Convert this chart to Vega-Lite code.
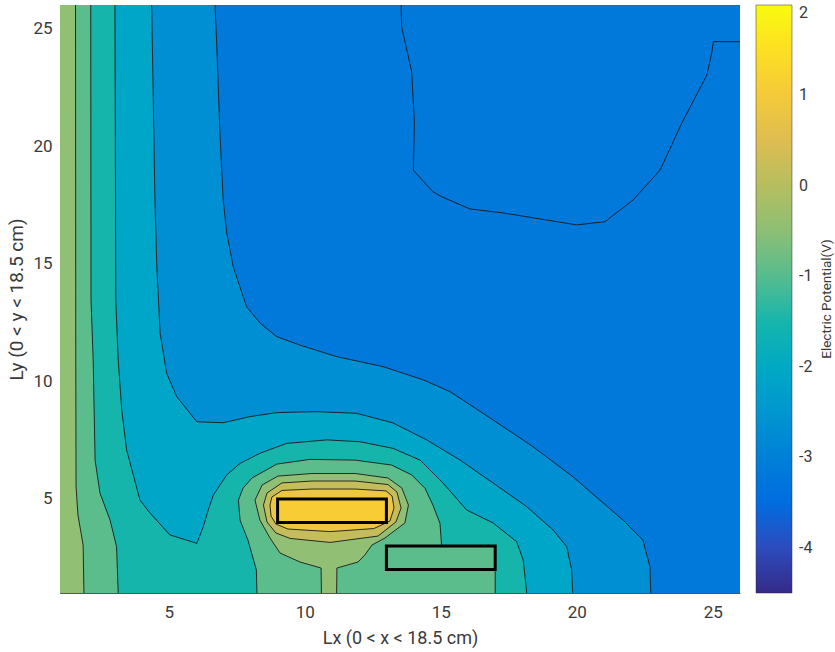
{
"$schema": "https://vega.github.io/schema/vega-lite/v6.json",
"width": 680, "height": 588,
"autosize": "none",
"padding": {"left": 60, "top": 5, "right": 95, "bottom": 59},
"background": "white",
"title": {"text": "Electric Potential(V)", "orient": "right", "angle": 270, "anchor": "middle", "baseline": "top", "offset": -7, "fontSize": 13.5, "fontWeight": "normal", "color": "#3a3a3a", "font": "Roboto"},
"config": {"view": {"stroke": null}, "font": "Roboto"},
"datasets": {
"poly": [
{"id":"bg","i":0,"x":1,"y":1,"v":-3.2,"e":1},{"id":"bg","i":1,"x":26,"y":1,"v":-3.2,"e":1},{"id":"bg","i":2,"x":26,"y":26,"v":-3.2,"e":1},{"id":"bg","i":3,"x":1,"y":26,"v":-3.2,"e":1},
{"id":"p1","i":0,"x":13.54,"y":26,"v":-3.2},{"id":"p1","i":1,"x":13.56,"y":25.08,"v":-3.2},{"id":"p1","i":2,"x":13.93,"y":23.16,"v":-3.2},{"id":"p1","i":3,"x":14.03,"y":20.98,"v":-3.2},{"id":"p1","i":4,"x":13.99,"y":18.98,"v":-3.2},{"id":"p1","i":5,"x":14.71,"y":18.06,"v":-3.2},{"id":"p1","i":6,"x":15.03,"y":17.85,"v":-3.2},{"id":"p1","i":7,"x":16.07,"y":17.33,"v":-3.2},{"id":"p1","i":8,"x":17.29,"y":17.16,"v":-3.2},{"id":"p1","i":9,"x":18.89,"y":16.86,"v":-3.2},{"id":"p1","i":10,"x":20.0,"y":16.65,"v":-3.2},{"id":"p1","i":11,"x":21.04,"y":16.79,"v":-3.2},{"id":"p1","i":12,"x":22.07,"y":17.71,"v":-3.2},{"id":"p1","i":13,"x":23.06,"y":18.98,"v":-3.2},{"id":"p1","i":14,"x":23.86,"y":20.98,"v":-3.2},{"id":"p1","i":15,"x":24.78,"y":23.02,"v":-3.2},{"id":"p1","i":16,"x":24.96,"y":23.96,"v":-3.2},{"id":"p1","i":17,"x":25.02,"y":24.44,"v":-3.2},{"id":"p1","i":18,"x":26,"y":24.44,"v":-3.2},{"id":"p1","i":19,"x":26,"y":26,"v":-3.2,"e":1},
{"id":"p2","i":0,"x":6.7,"y":26,"v":-2.65},{"id":"p2","i":1,"x":6.77,"y":24.09,"v":-2.65},{"id":"p2","i":2,"x":6.88,"y":20.56,"v":-2.65},{"id":"p2","i":3,"x":7.0,"y":17.71,"v":-2.65},{"id":"p2","i":4,"x":7.13,"y":16.31,"v":-2.65},{"id":"p2","i":5,"x":7.37,"y":14.87,"v":-2.65},{"id":"p2","i":6,"x":7.86,"y":13.17,"v":-2.65},{"id":"p2","i":7,"x":8.35,"y":12.48,"v":-2.65},{"id":"p2","i":8,"x":8.97,"y":11.9,"v":-2.65},{"id":"p2","i":9,"x":9.82,"y":11.54,"v":-2.65},{"id":"p2","i":10,"x":11.17,"y":11.05,"v":-2.65},{"id":"p2","i":11,"x":12.89,"y":10.62,"v":-2.65},{"id":"p2","i":12,"x":14.36,"y":10.06,"v":-2.65},{"id":"p2","i":13,"x":15.34,"y":9.56,"v":-2.65},{"id":"p2","i":14,"x":16.92,"y":8.36,"v":-2.65},{"id":"p2","i":15,"x":18.39,"y":7.22,"v":-2.65},{"id":"p2","i":16,"x":19.86,"y":5.94,"v":-2.65},{"id":"p2","i":17,"x":20.85,"y":4.95,"v":-2.65},{"id":"p2","i":18,"x":21.7,"y":4.1,"v":-2.65},{"id":"p2","i":19,"x":22.43,"y":3.25,"v":-2.65},{"id":"p2","i":20,"x":22.69,"y":2.11,"v":-2.65},{"id":"p2","i":21,"x":22.72,"y":1,"v":-2.65},{"id":"p2","i":22,"x":1,"y":1,"v":-2.65,"e":1},{"id":"p2","i":23,"x":1,"y":26,"v":-2.65,"e":1},
{"id":"p3","i":0,"x":4.37,"y":26,"v":-2.1},{"id":"p3","i":1,"x":4.46,"y":19.83,"v":-2.1},{"id":"p3","i":2,"x":4.49,"y":17.71,"v":-2.1},{"id":"p3","i":3,"x":4.56,"y":14.87,"v":-2.1},{"id":"p3","i":4,"x":4.68,"y":12.05,"v":-2.1},{"id":"p3","i":5,"x":4.92,"y":10.35,"v":-2.1},{"id":"p3","i":6,"x":5.29,"y":9.35,"v":-2.1},{"id":"p3","i":7,"x":6.03,"y":8.28,"v":-2.1},{"id":"p3","i":8,"x":7.0,"y":8.24,"v":-2.1},{"id":"p3","i":9,"x":7.99,"y":8.5,"v":-2.1},{"id":"p3","i":10,"x":8.97,"y":8.67,"v":-2.1},{"id":"p3","i":11,"x":10.44,"y":8.71,"v":-2.1},{"id":"p3","i":12,"x":11.91,"y":8.64,"v":-2.1},{"id":"p3","i":13,"x":13.24,"y":8.23,"v":-2.1},{"id":"p3","i":14,"x":14.48,"y":7.51,"v":-2.1},{"id":"p3","i":15,"x":15.71,"y":6.65,"v":-2.1},{"id":"p3","i":16,"x":16.92,"y":5.68,"v":-2.1},{"id":"p3","i":17,"x":18.16,"y":4.67,"v":-2.1},{"id":"p3","i":18,"x":19.13,"y":3.68,"v":-2.1},{"id":"p3","i":19,"x":19.63,"y":2.97,"v":-2.1},{"id":"p3","i":20,"x":19.81,"y":1.98,"v":-2.1},{"id":"p3","i":21,"x":19.85,"y":1,"v":-2.1},{"id":"p3","i":22,"x":1,"y":1,"v":-2.1,"e":1},{"id":"p3","i":23,"x":1,"y":26,"v":-2.1,"e":1},
{"id":"p4","i":0,"x":3.02,"y":26,"v":-1.5},{"id":"p4","i":1,"x":3.05,"y":13.46,"v":-1.5},{"id":"p4","i":2,"x":3.14,"y":10.91,"v":-1.5},{"id":"p4","i":3,"x":3.27,"y":8.78,"v":-1.5},{"id":"p4","i":4,"x":3.45,"y":7.08,"v":-1.5},{"id":"p4","i":5,"x":3.94,"y":4.95,"v":-1.5},{"id":"p4","i":6,"x":4.31,"y":4.4,"v":-1.5},{"id":"p4","i":7,"x":5.04,"y":3.47,"v":-1.5},{"id":"p4","i":8,"x":6.03,"y":3.11,"v":-1.5},{"id":"p4","i":9,"x":6.27,"y":3.82,"v":-1.5},{"id":"p4","i":10,"x":6.45,"y":4.53,"v":-1.5},{"id":"p4","i":11,"x":6.64,"y":5.17,"v":-1.5},{"id":"p4","i":12,"x":7.13,"y":6.02,"v":-1.5},{"id":"p4","i":13,"x":7.62,"y":6.51,"v":-1.5},{"id":"p4","i":14,"x":8.35,"y":6.94,"v":-1.5},{"id":"p4","i":15,"x":9.33,"y":7.36,"v":-1.5},{"id":"p4","i":16,"x":10.81,"y":7.51,"v":-1.5},{"id":"p4","i":17,"x":12.03,"y":7.43,"v":-1.5},{"id":"p4","i":18,"x":13.24,"y":7.15,"v":-1.5},{"id":"p4","i":19,"x":14.24,"y":6.65,"v":-1.5},{"id":"p4","i":20,"x":15.08,"y":5.68,"v":-1.5},{"id":"p4","i":21,"x":15.95,"y":4.53,"v":-1.5},{"id":"p4","i":22,"x":16.92,"y":3.98,"v":-1.5},{"id":"p4","i":23,"x":17.79,"y":3.18,"v":-1.5},{"id":"p4","i":24,"x":18.03,"y":2.4,"v":-1.5},{"id":"p4","i":25,"x":18.16,"y":1,"v":-1.5},{"id":"p4","i":26,"x":1,"y":1,"v":-1.5,"e":1},{"id":"p4","i":27,"x":1,"y":26,"v":-1.5,"e":1},
{"id":"p5a","i":0,"x":2.13,"y":26,"v":-0.95},{"id":"p5a","i":1,"x":2.14,"y":13.46,"v":-0.95},{"id":"p5a","i":2,"x":2.22,"y":10.91,"v":-0.95},{"id":"p5a","i":3,"x":2.29,"y":6.65,"v":-0.95},{"id":"p5a","i":4,"x":2.47,"y":5.25,"v":-0.95},{"id":"p5a","i":5,"x":2.84,"y":4.1,"v":-0.95},{"id":"p5a","i":6,"x":3.08,"y":2.97,"v":-0.95},{"id":"p5a","i":7,"x":3.14,"y":1,"v":-0.95},{"id":"p5a","i":8,"x":1,"y":1,"v":-0.95,"e":1},{"id":"p5a","i":9,"x":1,"y":26,"v":-0.95,"e":1},
{"id":"p5b","i":0,"x":8.24,"y":1,"v":-0.95},{"id":"p5b","i":1,"x":8.22,"y":1.98,"v":-0.95},{"id":"p5b","i":2,"x":7.91,"y":3.25,"v":-0.95},{"id":"p5b","i":3,"x":7.62,"y":4.1,"v":-0.95},{"id":"p5b","i":4,"x":7.56,"y":4.95,"v":-0.95},{"id":"p5b","i":5,"x":7.73,"y":5.46,"v":-0.95},{"id":"p5b","i":6,"x":8.06,"y":5.89,"v":-0.95},{"id":"p5b","i":7,"x":8.97,"y":6.48,"v":-0.95},{"id":"p5b","i":8,"x":10.19,"y":6.68,"v":-0.95},{"id":"p5b","i":9,"x":11.85,"y":6.65,"v":-0.95},{"id":"p5b","i":10,"x":13.19,"y":6.44,"v":-0.95},{"id":"p5b","i":11,"x":13.93,"y":6.02,"v":-0.95},{"id":"p5b","i":12,"x":14.42,"y":5.45,"v":-0.95},{"id":"p5b","i":13,"x":14.71,"y":4.74,"v":-0.95},{"id":"p5b","i":14,"x":14.97,"y":3.96,"v":-0.95},{"id":"p5b","i":15,"x":15.03,"y":3.0,"v":-0.95},{"id":"p5b","i":16,"x":17,"y":3,"v":-0.95},{"id":"p5b","i":17,"x":17,"y":2,"v":-0.95},{"id":"p5b","i":18,"x":17,"y":1,"v":-0.95},
{"id":"p6a","i":0,"x":1.57,"y":26,"v":-0.45},{"id":"p6a","i":1,"x":1.58,"y":10.91,"v":-0.45},{"id":"p6a","i":2,"x":1.59,"y":5.51,"v":-0.45},{"id":"p6a","i":3,"x":1.66,"y":4.32,"v":-0.45},{"id":"p6a","i":4,"x":1.85,"y":3.04,"v":-0.45},{"id":"p6a","i":5,"x":1.88,"y":1,"v":-0.45},{"id":"p6a","i":6,"x":1,"y":1,"v":-0.45,"e":1},{"id":"p6a","i":7,"x":1,"y":26,"v":-0.45,"e":1},
{"id":"p6b","i":0,"x":10.61,"y":1,"v":-0.45},{"id":"p6b","i":1,"x":10.6,"y":2.06,"v":-0.45},{"id":"p6b","i":2,"x":9.82,"y":2.32,"v":-0.45},{"id":"p6b","i":3,"x":9.09,"y":2.7,"v":-0.45},{"id":"p6b","i":4,"x":8.72,"y":3.34,"v":-0.45},{"id":"p6b","i":5,"x":8.35,"y":4.1,"v":-0.45},{"id":"p6b","i":6,"x":8.17,"y":4.95,"v":-0.45},{"id":"p6b","i":7,"x":8.43,"y":5.59,"v":-0.45},{"id":"p6b","i":8,"x":9.01,"y":5.97,"v":-0.45},{"id":"p6b","i":9,"x":10.26,"y":6.08,"v":-0.45},{"id":"p6b","i":10,"x":11.85,"y":6.08,"v":-0.45},{"id":"p6b","i":11,"x":13.06,"y":5.89,"v":-0.45},{"id":"p6b","i":12,"x":13.57,"y":5.46,"v":-0.45},{"id":"p6b","i":13,"x":13.81,"y":4.74,"v":-0.45},{"id":"p6b","i":14,"x":13.68,"y":3.98,"v":-0.45},{"id":"p6b","i":15,"x":12.95,"y":3.34,"v":-0.45},{"id":"p6b","i":16,"x":12.47,"y":3.04,"v":-0.45},{"id":"p6b","i":17,"x":12.21,"y":2.62,"v":-0.45},{"id":"p6b","i":18,"x":11.96,"y":2.32,"v":-0.45},{"id":"p6b","i":19,"x":11.18,"y":2.06,"v":-0.45},{"id":"p6b","i":20,"x":11.17,"y":1,"v":-0.45},
{"id":"p7","i":0,"x":8.48,"y":4.74,"v":0.15},{"id":"p7","i":1,"x":8.61,"y":5.25,"v":0.15},{"id":"p7","i":2,"x":9.16,"y":5.68,"v":0.15},{"id":"p7","i":3,"x":10.26,"y":5.76,"v":0.15},{"id":"p7","i":4,"x":11.85,"y":5.76,"v":0.15},{"id":"p7","i":5,"x":13.06,"y":5.61,"v":0.15},{"id":"p7","i":6,"x":13.39,"y":5.29,"v":0.15},{"id":"p7","i":7,"x":13.54,"y":4.61,"v":0.15},{"id":"p7","i":8,"x":13.35,"y":4.02,"v":0.15},{"id":"p7","i":9,"x":12.69,"y":3.42,"v":0.15},{"id":"p7","i":10,"x":10.93,"y":3.15,"v":0.15},{"id":"p7","i":11,"x":9.46,"y":3.32,"v":0.15},{"id":"p7","i":12,"x":8.94,"y":3.55,"v":0.15},{"id":"p7","i":13,"x":8.61,"y":4.02,"v":0.15},{"id":"p7","i":14,"x":8.48,"y":4.74,"v":0.15},
{"id":"p8","i":0,"x":8.72,"y":4.74,"v":0.85},{"id":"p8","i":1,"x":8.79,"y":5.08,"v":0.85},{"id":"p8","i":2,"x":9.16,"y":5.36,"v":0.85},{"id":"p8","i":3,"x":10.26,"y":5.42,"v":0.85},{"id":"p8","i":4,"x":11.85,"y":5.42,"v":0.85},{"id":"p8","i":5,"x":12.99,"y":5.34,"v":0.85},{"id":"p8","i":6,"x":13.21,"y":5.12,"v":0.85},{"id":"p8","i":7,"x":13.28,"y":4.61,"v":0.85},{"id":"p8","i":8,"x":13.13,"y":4.06,"v":0.85},{"id":"p8","i":9,"x":12.54,"y":3.74,"v":0.85},{"id":"p8","i":10,"x":10.93,"y":3.61,"v":0.85},{"id":"p8","i":11,"x":9.38,"y":3.72,"v":0.85},{"id":"p8","i":12,"x":8.94,"y":3.93,"v":0.85},{"id":"p8","i":13,"x":8.76,"y":4.27,"v":0.85},{"id":"p8","i":14,"x":8.72,"y":4.74,"v":0.85}
],
"boxes": [
{"x":9,"x2":13,"y":4,"y2":5,"v":1.1},
{"x":13,"x2":17,"y":2,"y2":3,"v":-0.95}
]
},
"layer": [
{
"data": {"name": "poly"},
"mark": {"type": "line", "filled": true, "strokeWidth": 0, "clip": true},
"encoding": {
"x": {"field": "x", "type": "quantitative", "scale": {"domain": [1, 26], "nice": false, "zero": false},
"axis": {"title": "Lx (0 < x < 18.5 cm)", "values": [5, 10, 15, 20, 25], "ticks": false, "grid": false, "labelPadding": 11, "labelFontSize": 17, "titleFontSize": 18, "titleFontWeight": "normal", "titlePadding": 9, "labelColor": "#3a3a3a", "titleColor": "#3a3a3a", "domainColor": "#555555"}},
"y": {"field": "y", "type": "quantitative", "scale": {"domain": [1, 26], "nice": false, "zero": false},
"axis": {"title": "Ly (0 < y < 18.5 cm)", "values": [5, 10, 15, 20, 25], "ticks": false, "grid": false, "labelPadding": 8, "labelFontSize": 17, "titleFontSize": 19, "titleFontWeight": "normal", "titlePadding": 6, "labelColor": "#3a3a3a", "titleColor": "#3a3a3a", "domainColor": "#555555"}},
"color": {"field": "v", "type": "quantitative",
"scale": {"domain": [-4.5, -3.6875, -2.875, -2.0625, -1.25, -0.4375, 0.375, 1.1875, 2], "range": ["#352a87", "#0363e1", "#1485d4", "#06a7c6", "#38b99e", "#92bf73", "#d9ba56", "#fcce2e", "#f9fb0e"]},
"legend": {"title": null, "orient": "none", "legendX": 696, "legendY": 0, "direction": "vertical", "gradientLength": 588, "gradientThickness": 36, "values": [-4, -3, -2, -1, 0, 1, 2], "labelExpr": "'' + datum.value", "labelFontSize": 16, "labelOffset": 7, "labelColor": "#3a3a3a", "gradientStrokeColor": "#333333", "gradientStrokeWidth": 0.5, "padding": 0}},
"detail": {"field": "id", "type": "nominal"},
"order": {"field": "i", "type": "quantitative"}
}
},
{
"data": {"name": "poly"},
"transform": [{"filter": "datum.e != 1"}],
"mark": {"type": "line", "stroke": "#1a1a1a", "strokeWidth": 0.9, "clip": true},
"encoding": {
"x": {"field": "x", "type": "quantitative"},
"y": {"field": "y", "type": "quantitative"},
"detail": {"field": "id", "type": "nominal"},
"order": {"field": "i", "type": "quantitative"}
}
},
{
"data": {"name": "boxes"},
"mark": {"type": "rect", "stroke": "black", "strokeWidth": 3},
"encoding": {
"x": {"field": "x", "type": "quantitative"},
"x2": {"field": "x2"},
"y": {"field": "y", "type": "quantitative"},
"y2": {"field": "y2"},
"color": {"field": "v", "type": "quantitative"}
}
}
]
}
